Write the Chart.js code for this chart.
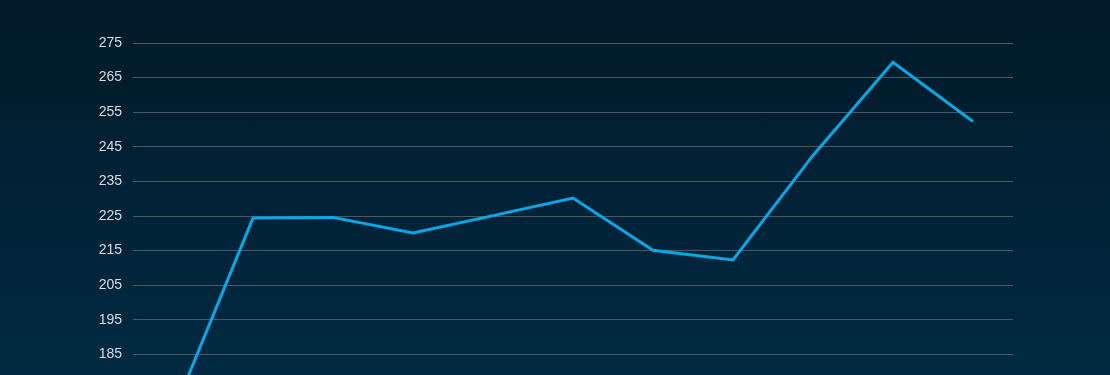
<!DOCTYPE html>
<html>
<head>
<meta charset="utf-8">
<script src="https://cdn.jsdelivr.net/npm/chart.js@4"></script>
<style>
  html, body { margin: 0; padding: 0; width: 1110px; height: 375px; overflow: hidden; }
  body { background: linear-gradient(to bottom, #011a29 0%, #012a42 100%); }
  #wrap { position: relative; width: 1110px; height: 443px; }
</style>
</head>
<body>
<div id="wrap"><canvas id="lineChart"></canvas></div>
<script>
var labels = ["Jan", "Feb", "Mar", "Apr", "May", "Jun", "Jul", "Aug", "Sep", "Oct", "Nov"];
var values = [168, 224.4, 224.6, 220.1, 225.1, 230.2, 215.1, 212.3, 242.5, 269.4, 252.3];
var yTicks = { min: 165, max: 275, step: 10 };

var ctx = document.getElementById('lineChart').getContext('2d');
var chart = new Chart(ctx, {
    type: 'line',
    data: {
        labels: labels,
        datasets: [{
            data: values,
            borderColor: '#06a8e8',
            borderWidth: 3,
            pointRadius: 0,
            tension: 0,
            fill: false
        }]
    },
    options: {
        responsive: true,
        maintainAspectRatio: false,
        animation: false,
        layout: { padding: { top: 43, bottom: 12, left: 0, right: 97 } },
        plugins: { legend: { display: false }, tooltip: { enabled: false } },
        scales: {
            x: {
                display: false,
                offset: true
            },
            y: {
                min: yTicks.min,
                max: yTicks.max,
                afterFit: function (s) { s.width = 133; },
                border: { display: false },
                grid: { color: '#4a5960', lineWidth: 1, drawTicks: false },
                ticks: {
                    stepSize: yTicks.step,
                    padding: 11,
                    color: '#d6dde2',
                    font: { family: 'Arial, "Liberation Sans", sans-serif', size: 14 }
                }
            }
        }
    }
});
</script>
</body>
</html>
